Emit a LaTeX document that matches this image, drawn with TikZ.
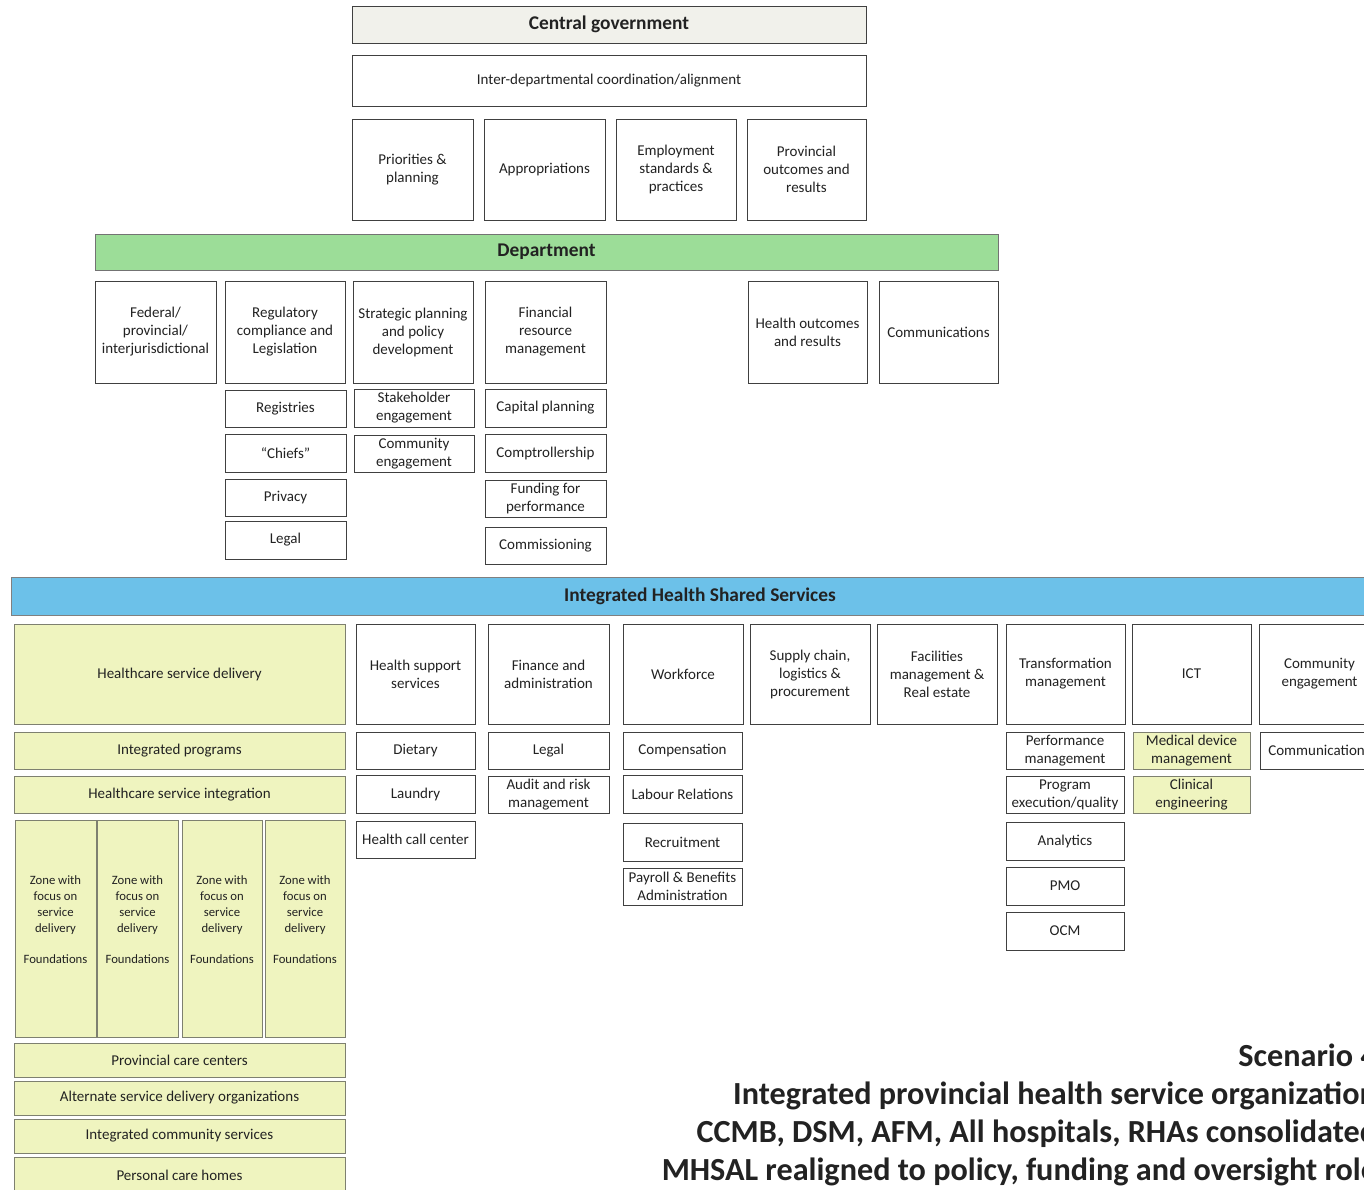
\documentclass[tikz,border=0pt]{standalone}
\usepackage{fontspec}
\setmainfont{Carlito}
\definecolor{ink}{HTML}{222222}
\definecolor{edge}{HTML}{404040}
\definecolor{cgfill}{HTML}{F1F1EB}
\definecolor{deptgreen}{HTML}{9CDD98}
\definecolor{sharedblue}{HTML}{6CC1E9}
\definecolor{zonefill}{HTML}{EFF4BF}
\definecolor{zoneedge}{HTML}{7E8070}
\tikzset{
  box/.style={draw=edge, line width=1pt, fill=white, inner sep=1pt, align=center,
    text=ink, font=\fontsize{15}{18}\selectfont},
  hdr/.style={box, font=\fontsize{19.4}{22}\selectfont\bfseries},
  zone/.style={box, fill=zonefill, draw=zoneedge},
  zonetext/.style={align=center, text=ink, inner sep=0pt, font=\fontsize{12.7}{16}\selectfont},
  titletext/.style={anchor=east, align=right, inner sep=0pt, text=ink,
    font=\fontsize{32.2}{38}\selectfont\bfseries}
}
% \bx{style}{name}{x1}{y1}{x2}{y2}{text}: box given by its corners
\newcommand{\bx}[7]{%
  \node[#1, minimum width={#5-#3}, minimum height={#6-#4}] (#2)
    at ({(#3+#5)/2},{(#4+#6)/2}) {#7};}
\begin{document}
\begin{tikzpicture}[x=1pt, y=-1pt]
\useasboundingbox (0,0) rectangle (1364,1189);
\clip (0,0) rectangle (1364,1189);
\fill[white] (0,0) rectangle (1364,1189);

% Central government
\bx{hdr, fill=cgfill}{cg}{352}{6}{866}{43}{Central government}
\bx{box}{idc}{352}{55}{866}{106}{Inter-departmental coordination/alignment}
\bx{box}{pri}{352}{119}{473}{220}{Priorities \&\\planning}
\bx{box}{app}{484}{119}{605}{220}{Appropriations}
\bx{box}{emp}{616}{119}{736}{220}{Employment\\standards \&\\practices}
\bx{box}{pout}{747}{119}{866}{220}{Provincial\\outcomes and\\results}

% Department
\bx{hdr, fill=deptgreen, draw=black!55}{dept}{95}{234}{998}{270}{Department}
\bx{box}{fed}{95}{281}{216}{383}{Federal/\\provincial/\\interjurisdictional}
\bx{box}{reg}{225}{281}{345}{383}{Regulatory\\compliance and\\Legislation}
\bx{box}{stp}{353}{281}{473}{383}{Strategic planning\\and policy\\development}
\bx{box}{frm}{485}{281}{606}{383}{Financial\\resource\\management}
\bx{box}{hor}{748}{281}{867}{383}{Health outcomes\\and results}
\bx{box}{dcomm}{879}{281}{998}{383}{Communications}

\bx{box}{regi}{225}{390}{346}{427}{Registries}
\bx{box}{chf}{225}{434}{346}{472}{“Chiefs”}
\bx{box}{priv}{225}{479}{346}{516}{Privacy}
\bx{box}{dlegal}{225}{521}{346}{559}{Legal}
\bx{box}{stk}{354}{389}{474}{427}{Stakeholder\\engagement}
\bx{box}{deng}{354}{435}{474}{472}{Community\\engagement}
\bx{box}{cap}{485}{389}{606}{427}{Capital planning}
\bx{box}{comp}{485}{434}{606}{472}{Comptrollership}
\bx{box}{ffp}{485}{480}{606}{517}{Funding for\\performance}
\bx{box}{cms}{485}{527}{606}{564}{Commissioning}

% Integrated Health Shared Services
\bx{hdr, fill=sharedblue, draw=black!50}{ihss}{11}{577}{1389}{615}{Integrated Health Shared Services}
\bx{zone}{hsd}{14}{624}{345}{724}{Healthcare service delivery}
\bx{box}{hss}{356}{624}{475}{724}{Health support\\services}
\bx{box}{fa}{488}{624}{609}{724}{Finance and\\administration}
\bx{box}{wf}{623}{624}{743}{724}{Workforce}
\bx{box}{sc}{750}{624}{870}{724}{Supply chain,\\logistics \&\\procurement}
\bx{box}{fm}{877}{624}{997}{724}{Facilities\\management \&\\Real estate}
\bx{box}{tm}{1006}{624}{1125}{724}{Transformation\\management}
\bx{box}{ict}{1132}{624}{1251}{724}{ICT}
\bx{box}{ceng}{1259}{624}{1380}{724}{Community\\engagement}

\bx{zone}{ip}{14}{732}{345}{769}{Integrated programs}
\bx{box}{diet}{356}{732}{475}{769}{Dietary}
\bx{box}{flegal}{488}{732}{609}{769}{Legal}
\bx{box}{cmp}{623}{732}{742}{769}{Compensation}
\bx{box}{pm}{1006}{732}{1124}{769}{Performance\\management}
\bx{zone}{mdm}{1133}{732}{1250}{769}{Medical device\\management}
\bx{box}{ccomm}{1260}{732}{1379}{769}{Communications}

\bx{zone}{hsi}{14}{776}{345}{813}{Healthcare service integration}
\bx{box}{lau}{356}{775}{475}{813}{Laundry}
\bx{box}{arm}{488}{776}{609}{813}{Audit and risk\\management}
\bx{box}{lr}{623}{775}{742}{813}{Labour Relations}
\bx{box}{pex}{1006}{776}{1124}{813}{Program\\execution/quality}
\bx{zone}{cle}{1133}{776}{1250}{813}{Clinical\\engineering}

\bx{box}{hcc}{356}{821}{475}{858}{Health call center}
\bx{box}{rec}{623}{823}{742}{861}{Recruitment}
\bx{box}{ana}{1006}{822}{1124}{860}{Analytics}
\bx{box}{pay}{623}{868}{742}{905}{Payroll \& Benefits\\Administration}
\bx{box}{pmo}{1006}{867}{1124}{905}{PMO}
\bx{box}{ocm}{1006}{912}{1124}{950}{OCM}

% Zones
\bx{zone}{z1}{15}{820}{96}{1037}{}
\bx{zone}{z2}{97}{820}{178}{1037}{}
\bx{zone}{z3}{182}{820}{262}{1037}{}
\bx{zone}{z4}{265}{820}{345}{1037}{}
\foreach \z/\cx in {z1t/55.5, z2t/137.5, z3t/222, z4t/305}
  \node[zonetext] (\z) at (\cx,919.5) {Zone with\\focus on\\service\\delivery\\[15pt]Foundations};

\bx{zone}{pcc}{14}{1043}{345}{1077}{Provincial care centers}
\bx{zone}{asd}{14}{1081}{345}{1115}{Alternate service delivery organizations}
\bx{zone}{ics}{14}{1119}{345}{1153}{Integrated community services}
\bx{zone}{pch}{14}{1157}{345}{1193}{Personal care homes}

% Caption
\node[titletext] (title) at (1377,1115) {Scenario 4\\Integrated provincial health service organization\\CCMB, DSM, AFM, All hospitals, RHAs consolidated\\MHSAL realigned to policy, funding and oversight role};
\end{tikzpicture}
\end{document}
